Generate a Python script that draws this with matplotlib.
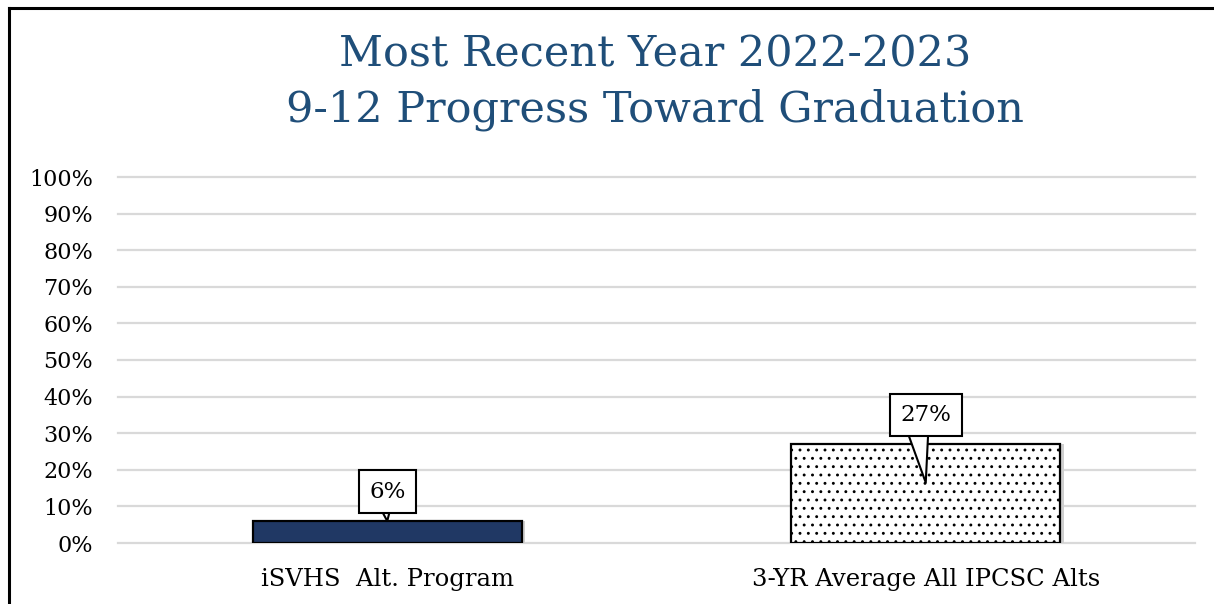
import matplotlib
matplotlib.use("Agg")
import matplotlib.pyplot as plt
from matplotlib.lines import Line2D

categories = ["iSVHS  Alt. Program", "3-YR Average All IPCSC Alts"]
values = [6, 27]
label_texts = ["6%", "27%"]
yticks = [0, 10, 20, 30, 40, 50, 60, 70, 80, 90, 100]
ytick_labels = [f"{t}%" for t in yticks]
title = "Most Recent Year 2022-2023\n9-12 Progress Toward Graduation"

plt.rcParams['font.family'] = ['DejaVu Serif']
plt.rcParams['hatch.linewidth'] = 0.9

fig = plt.figure(figsize=(12.14, 6.04), dpi=100)
W, H = 1214, 604
ax = fig.add_axes([118 / W, 1 - 543 / H, (1195 - 118) / W, (543 - 177) / H])

colors = ["#203864", "white"]
hatches = [None, ".."]
x = list(range(len(categories)))
# subtle shadow
ax.bar([xi + 0.006 for xi in x], values, width=0.5, color="#cfcfcf", zorder=2)
bars = ax.bar(x, values, width=0.5, color=colors, edgecolor="black",
              linewidth=1.6, zorder=3)
for b, h in zip(bars, hatches):
    if h:
        b.set_hatch(h)

ax.set_xlim(-0.5, 1.5)
ax.set_ylim(0, 100)
ax.set_yticks(yticks)
ax.set_yticklabels(ytick_labels, fontsize=16)
ax.set_xticks(x)
ax.set_xticklabels(categories, fontsize=17.5)
ax.tick_params(length=0)
ax.tick_params(axis='y', pad=18)
ax.tick_params(axis='x', pad=18)
for s in ax.spines.values():
    s.set_visible(False)
ax.grid(axis='y', color="#d9d9d9", linewidth=1.6, zorder=0)
for gl in ax.get_ygridlines():
    gl.set_clip_on(False)
ax.set_axisbelow(True)

tip_offsets = [0.0, -10.5]
tail_widths = [1.0, 1.2]
relxs = [0.4, 0.3]
for xi, v, t, off, tw, rx in zip(x, values, label_texts, tip_offsets, tail_widths, relxs):
    ax.annotate(t, xy=(xi, v + off), xytext=(xi, v + 8),
                textcoords='data', ha='center', va='center', fontsize=16.5,
                bbox=dict(boxstyle='square,pad=0.45', fc='white', ec='black', lw=1.5),
                arrowprops=dict(arrowstyle=f'wedge,tail_width={tw},shrink_factor=0.5',
                                fc='white', ec='black', lw=1.5, relpos=(rx, 0.5),
                                patchA=None, shrinkA=0, shrinkB=0),
                zorder=5)

fig.text(655 / W, 1 - 82 / H, title, ha='center', va='center', fontsize=31,
         color="#1f4e79", linespacing=1.4)

fig.add_artist(Line2D([9 / W, 9 / W], [0, 1 - 7.5 / H], color='black', lw=2.2,
                      transform=fig.transFigure))
fig.add_artist(Line2D([9 / W, 1], [1 - 7.5 / H, 1 - 7.5 / H], color='black', lw=2.2,
                      transform=fig.transFigure))

fig.savefig("out.png", dpi=100)
